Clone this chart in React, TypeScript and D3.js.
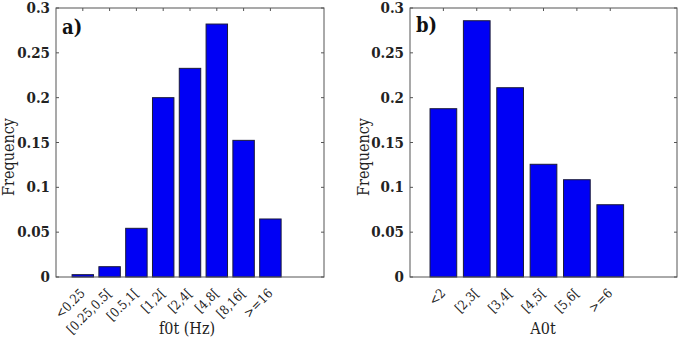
import * as d3 from "d3";

const W = 679, H = 341;

// f0t histogram (panel a)
const f0Bins = ["<0.25", "[0.25,0.5[", "[0.5,1[", "[1,2[", "[2,4[", "[4,8[", "[8,16[", ">=16"];
const f0Freq = [0.0026, 0.0115, 0.0543, 0.2, 0.2327, 0.2821, 0.1524, 0.0647];

// A0t histogram (panel b)
const a0Bins = ["<2", "[2,3[", "[3,4[", "[4,5[", "[5,6[", ">=6"];
const a0Freq = [0.1877, 0.2858, 0.2111, 0.1257, 0.1085, 0.0806];

const yTicks = [0, 0.05, 0.1, 0.15, 0.2, 0.25, 0.3];

const FONT = "DejaVu Serif Condensed, DejaVu Serif, serif";
const AXIS = "#555";
const TOP = 8, BOTTOM = 277;

type PanelProps = {
  left: number;
  right: number;
  bins: string[];
  freq: number[];
  xMax: number;
  tag: string;
  tagY: number;
  xLabel: string;
  xLabelX: number;
  yLabelX: number;
};

function Panel({ left, right, bins, freq, xMax, tag, tagY, xLabel, xLabelX, yLabelX }: PanelProps) {
  const x = d3.scaleLinear([0, xMax], [left, right]);
  const y = d3.scaleLinear([0, 0.3], [BOTTOM, TOP]);
  const bw = (x(1) - x(0)) * 0.8;

  return (
    <g style={{ fontFamily: FONT }}>
      {/* bars */}
      {freq.map((v, i) => (
        <rect key={i} x={x(i + 1) - bw / 2} y={y(v)} width={bw} height={y(0) - y(v)}
          fill="#0000F5" stroke="#1a1a3a" strokeWidth={1} />
      ))}

      {/* box */}
      <rect x={left} y={TOP} width={right - left} height={BOTTOM - TOP}
        fill="none" stroke={AXIS} strokeWidth={1} />

      {/* y ticks, inward on both sides */}
      {yTicks.map((t) => (
        <g key={t}>
          <line x1={left} x2={left + 3} y1={y(t)} y2={y(t)} stroke={AXIS} />
          <line x1={right} x2={right - 3} y1={y(t)} y2={y(t)} stroke={AXIS} />
          <text x={left - 6} y={y(t) + 5} textAnchor="end" fontSize={15}
            fontWeight="bold" fill="#222">
            {t}
          </text>
        </g>
      ))}

      {/* x ticks + rotated category labels */}
      {bins.map((b, i) => (
        <g key={b}>
          <line x1={x(i + 1)} x2={x(i + 1)} y1={TOP} y2={TOP + 3} stroke={AXIS} />
          <text transform={`translate(${x(i + 1) + 3},${BOTTOM + 17}) rotate(-45)`}
            textAnchor="end" fontSize={13} fill="#222">
            {b}
          </text>
        </g>
      ))}

      <text x={xLabelX} y={334} textAnchor="middle" fontSize={16} fill="#222">
        {xLabel}
      </text>
      <text transform={`translate(${yLabelX},157) rotate(-90)`} textAnchor="middle"
        fontSize={16} fill="#222">
        Frequency
      </text>
      <text x={left + 6} y={tagY} fontSize={20} fontWeight="bold" fill="#111">
        {tag}
      </text>
    </g>
  );
}

export default function App() {
  return (
    <svg width={W} height={H} style={{ position: "absolute", left: 0, top: 0, background: "#fff" }}>
      <Panel left={56} right={324} bins={f0Bins} freq={f0Freq} xMax={10} tag="a)" tagY={34}
        xLabel="f0t (Hz)" xLabelX={187} yLabelX={14} />
      <Panel left={410} right={677} bins={a0Bins} freq={a0Freq} xMax={8} tag="b)" tagY={32}
        xLabel="A0t" xLabelX={543} yLabelX={369} />
    </svg>
  );
}
